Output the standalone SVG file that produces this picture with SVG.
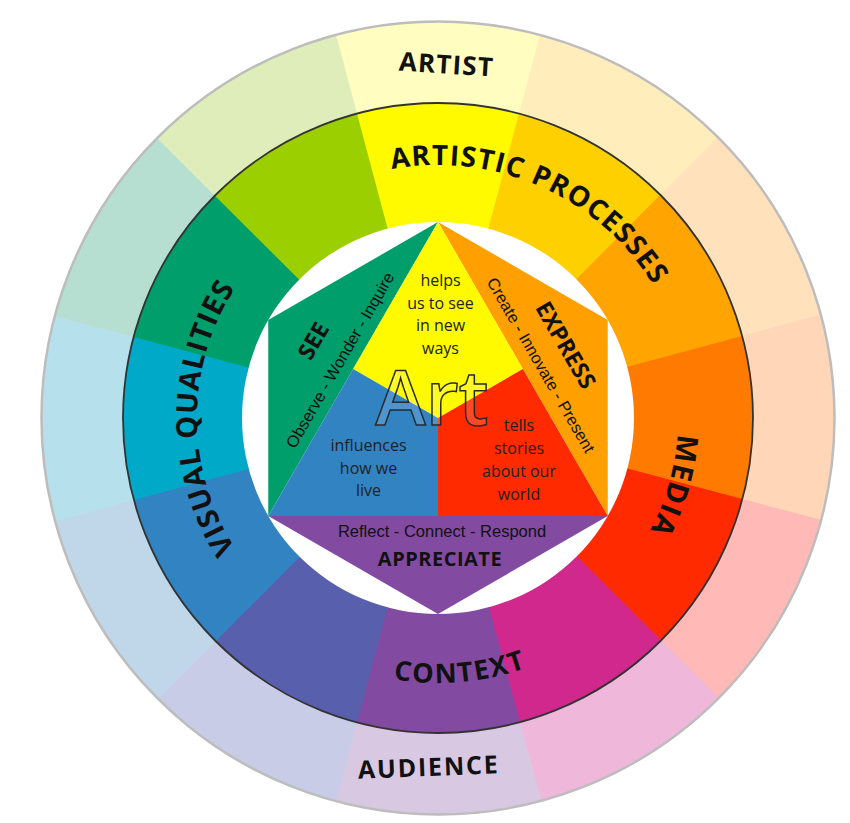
<svg xmlns="http://www.w3.org/2000/svg" xmlns:xlink="http://www.w3.org/1999/xlink" width="850" height="823" viewBox="0 0 850 823">
<style>
  .lbl { font-family: "Open Sans", "DejaVu Sans", sans-serif; font-weight: 700; fill: #111; }
  .body { font-family: "Open Sans", "DejaVu Sans", sans-serif; font-size: 16px; fill: #222; text-anchor: middle; }
  .arial { font-family: "Liberation Sans", Arial, sans-serif; font-size: 16.5px; fill: #111; text-anchor: middle; }
</style>
<defs>
  <path id="wo" d="M0,0 L-103.42,-383.29 A397,397 0 0 1 103.42,-383.29 Z"/>
  <path id="wi" d="M0,0 L-82.06,-304.12 A315,315 0 0 1 82.06,-304.12 Z"/>
  <path id="tp-ap" d="M218.89,291.5 A253,253 0 0 1 678.62,496.18"/>
  <path id="tp-vq" d="M412.81,657.68 A241,241 0 0 1 412.81,178.32"/>
  <path id="tp-media" d="M610.64,251.28 A240,240 0 0 1 496.06,650.87"/>
  <path id="tp-context" d="M182.03,486.59 A265,265 0 0 0 701.99,441.10"/>
</defs>

<g id="outer-ring">
  <use xlink:href="#wo" transform="translate(438,418) rotate(0)" fill="#FFFDC0"/>
  <use xlink:href="#wo" transform="translate(438,418) rotate(30)" fill="#FFEEBB"/>
  <use xlink:href="#wo" transform="translate(438,418) rotate(60)" fill="#FFE1BC"/>
  <use xlink:href="#wo" transform="translate(438,418) rotate(90)" fill="#FFD6B8"/>
  <use xlink:href="#wo" transform="translate(438,418) rotate(120)" fill="#FFB9B6"/>
  <use xlink:href="#wo" transform="translate(438,418) rotate(150)" fill="#EFB8DA"/>
  <use xlink:href="#wo" transform="translate(438,418) rotate(180)" fill="#D9C8E2"/>
  <use xlink:href="#wo" transform="translate(438,418) rotate(210)" fill="#C9CCE6"/>
  <use xlink:href="#wo" transform="translate(438,418) rotate(240)" fill="#C0D7EA"/>
  <use xlink:href="#wo" transform="translate(438,418) rotate(270)" fill="#B6E1EC"/>
  <use xlink:href="#wo" transform="translate(438,418) rotate(300)" fill="#B7DFD1"/>
  <use xlink:href="#wo" transform="translate(438,418) rotate(330)" fill="#DFEDBA"/>
  <circle cx="438" cy="418" r="396.5" fill="none" stroke="#BDBDBD" stroke-width="2.5"/>
</g>

<g id="inner-ring">
  <use xlink:href="#wi" transform="translate(438,418) rotate(0)" fill="#FFFA00"/>
  <use xlink:href="#wi" transform="translate(438,418) rotate(30)" fill="#FFD000"/>
  <use xlink:href="#wi" transform="translate(438,418) rotate(60)" fill="#FFA400"/>
  <use xlink:href="#wi" transform="translate(438,418) rotate(90)" fill="#FF7A00"/>
  <use xlink:href="#wi" transform="translate(438,418) rotate(120)" fill="#FF2A00"/>
  <use xlink:href="#wi" transform="translate(438,418) rotate(150)" fill="#D0288D"/>
  <use xlink:href="#wi" transform="translate(438,418) rotate(180)" fill="#834AA2"/>
  <use xlink:href="#wi" transform="translate(438,418) rotate(210)" fill="#5860AE"/>
  <use xlink:href="#wi" transform="translate(438,418) rotate(240)" fill="#3183C2"/>
  <use xlink:href="#wi" transform="translate(438,418) rotate(270)" fill="#00A9C7"/>
  <use xlink:href="#wi" transform="translate(438,418) rotate(300)" fill="#009E6B"/>
  <use xlink:href="#wi" transform="translate(438,418) rotate(330)" fill="#9BCF00"/>
  <circle cx="438" cy="418" r="315" fill="none" stroke="#333" stroke-width="1.8"/>
  <circle cx="438" cy="418" r="196" fill="#FFFFFF"/>
</g>

<g id="hexagon">
  <polygon id="see-area" points="438,222 268.26,320 268.26,516" fill="#009E6B"/>
  <polygon id="express-area" points="438,222 607.74,320 607.74,516" fill="#FFA000"/>
  <polygon id="appreciate-area" points="268.26,516 607.74,516 438,614" fill="#834AA2"/>
  <polygon id="helps-area" points="438,222 522.87,369 438,418 353.13,369" fill="#FFFA00"/>
  <polygon id="influences-area" points="353.13,369 438,418 438,516 268.26,516" fill="#3183C2"/>
  <polygon id="tells-area" points="522.87,369 607.74,516 438,516 438,418" fill="#FF2A00"/>
</g>

<g id="connectors"/>

<g id="artist">
  <text class="lbl" font-size="26" letter-spacing="1.2" text-anchor="middle" transform="rotate(3.5 445.5 73.5)" x="446" y="73.5">ARTIST</text>
</g>
<g id="audience">
  <text class="lbl" font-size="25" letter-spacing="1.8" text-anchor="middle" transform="rotate(-2.2 428 775.5)" x="429" y="776">AUDIENCE</text>
</g>
<g id="artistic-processes">
  <text class="lbl" font-size="28" letter-spacing="1.2"><textPath xlink:href="#tp-ap" startOffset="50%" text-anchor="middle">ARTISTIC PROCESSES</textPath></text>
</g>
<g id="visual-qualities">
  <text class="lbl" font-size="29" letter-spacing="1"><textPath xlink:href="#tp-vq" startOffset="50%" text-anchor="middle">VISUAL QUALITIES</textPath></text>
</g>
<g id="media">
  <text class="lbl" font-size="29" letter-spacing="1.5"><textPath xlink:href="#tp-media" startOffset="50%" text-anchor="middle">MEDIA</textPath></text>
</g>
<g id="context">
  <text class="lbl" font-size="27" letter-spacing="1.6"><textPath xlink:href="#tp-context" startOffset="50%" text-anchor="middle">CONTEXT</textPath></text>
</g>

<g id="see">
  <text class="lbl" font-size="23" text-anchor="middle" transform="rotate(-60 320.4 344.9)" x="320.4" y="344.9">SEE</text>
  <text class="arial" transform="rotate(-60 345 363)" x="345" y="363">Observe - Wonder - Inquire</text>
</g>
<g id="express">
  <text class="lbl" font-size="23" text-anchor="middle" transform="rotate(60 558.7 349.1)" x="558.7" y="349.1">EXPRESS</text>
  <text class="arial" transform="rotate(60 536 368)" x="536" y="368">Create - Innovate - Present</text>
</g>
<g id="appreciate">
  <text class="arial" x="442" y="537">Reflect - Connect - Respond</text>
  <text class="lbl" font-size="20" letter-spacing="0.5" text-anchor="middle" x="440" y="566">APPRECIATE</text>
</g>
<g id="helps">
  <text class="body" x="440.5" y="286">helps</text>
  <text class="body" x="440.5" y="308.5">us to see</text>
  <text class="body" x="440.5" y="331">in new</text>
  <text class="body" x="440.5" y="353.5">ways</text>
</g>
<g id="influences">
  <text class="body" x="368.5" y="451">influences</text>
  <text class="body" x="368.5" y="473.5">how we</text>
  <text class="body" x="368.5" y="496">live</text>
</g>
<g id="tells">
  <text class="body" x="519" y="431">tells</text>
  <text class="body" x="519" y="454">stories</text>
  <text class="body" x="519" y="477">about our</text>
  <text class="body" x="519" y="500">world</text>
</g>
<g id="art">
  <text x="432" y="425" text-anchor="middle" font-family="'Open Sans', 'DejaVu Sans', sans-serif" font-size="76" font-weight="600" fill="#FFFFFF" fill-opacity="0.15" stroke="#2a2a2a" stroke-width="1.5">Art</text>
</g>
</svg>
